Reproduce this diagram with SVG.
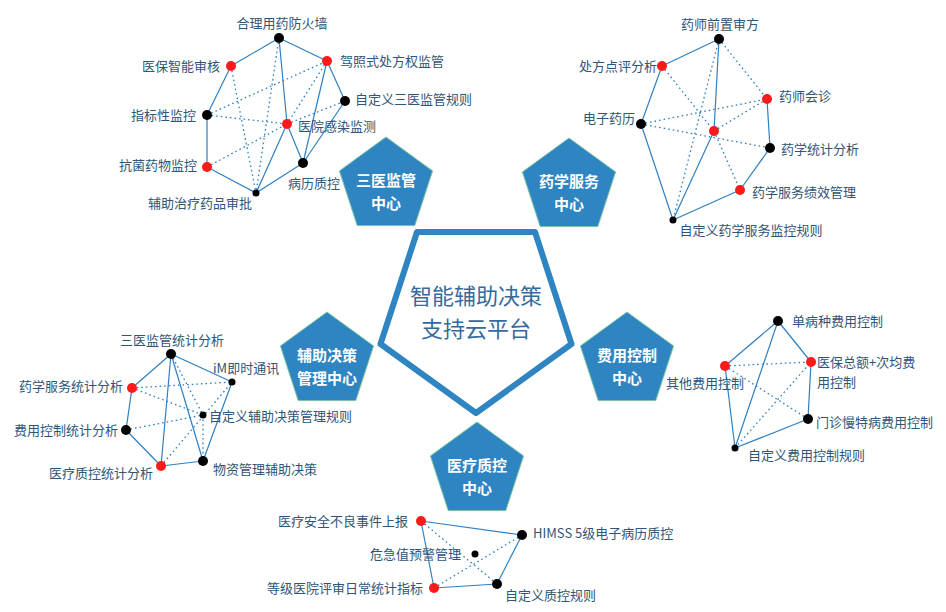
<svg xmlns="http://www.w3.org/2000/svg" width="946" height="612" viewBox="0 0 946 612">
<defs>
<style>
.s{stroke:#2f80c2;stroke-width:1.2;fill:none}
.d{stroke:#2f80c2;stroke-width:1.3;fill:none;stroke-dasharray:1.6 3}
.r{fill:#ff1a1a}
.k{fill:#000}
.lb{font-family:"Noto Sans CJK SC","Liberation Sans",sans-serif;font-size:13px;fill:#2f5577}
.pt{font-family:"Noto Sans CJK SC","Liberation Sans",sans-serif;font-size:15px;font-weight:bold;fill:#fff;text-anchor:middle}
.ct{font-family:"Noto Sans CJK SC","Liberation Sans",sans-serif;font-size:22px;fill:#336b9e;text-anchor:middle}
.pg{fill:#2f85c1;stroke:#7cc6a2;stroke-width:1}
</style>
<polygon id="pent" points="0,-49 46.6,-15.1 28.8,39.6 -28.8,39.6 -46.6,-15.1"/>
</defs>
<rect width="946" height="612" fill="#fff"/>

<g id="connectors">
<!-- cluster 1 -->
<line class="s" x1="279" y1="38" x2="231" y2="66"/>
<line class="s" x1="279" y1="38" x2="327" y2="61"/>
<line class="s" x1="279" y1="38" x2="287" y2="124"/>
<line class="s" x1="231" y1="66" x2="207" y2="115"/>
<line class="s" x1="207" y1="115" x2="207" y2="167"/>
<line class="s" x1="207" y1="167" x2="256" y2="193"/>
<line class="s" x1="256" y1="193" x2="287" y2="124"/>
<line class="s" x1="256" y1="193" x2="303" y2="163"/>
<line class="s" x1="287" y1="124" x2="303" y2="163"/>
<line class="s" x1="327" y1="61" x2="303" y2="163"/>
<line class="s" x1="327" y1="61" x2="345" y2="101"/>
<line class="s" x1="345" y1="101" x2="303" y2="163"/>
<line class="d" x1="279" y1="38" x2="256" y2="193"/>
<line class="d" x1="231" y1="66" x2="256" y2="193"/>
<line class="d" x1="207" y1="115" x2="327" y2="61"/>
<line class="d" x1="207" y1="115" x2="287" y2="124"/>
<line class="d" x1="207" y1="167" x2="287" y2="124"/>
<line class="d" x1="287" y1="124" x2="345" y2="101"/>
<line class="d" x1="327" y1="61" x2="287" y2="124"/>
<!-- cluster 2 -->
<line class="s" x1="719" y1="39" x2="662" y2="66"/>
<line class="s" x1="719" y1="39" x2="714" y2="131"/>
<line class="s" x1="662" y1="66" x2="641" y2="124"/>
<line class="s" x1="641" y1="124" x2="673" y2="220"/>
<line class="s" x1="673" y1="220" x2="714" y2="131"/>
<line class="s" x1="673" y1="220" x2="740" y2="190"/>
<line class="s" x1="740" y1="190" x2="770" y2="148"/>
<line class="s" x1="770" y1="148" x2="767" y2="99"/>
<line class="d" x1="719" y1="39" x2="767" y2="99"/>
<line class="d" x1="719" y1="39" x2="673" y2="220"/>
<line class="d" x1="662" y1="66" x2="714" y2="131"/>
<line class="d" x1="714" y1="131" x2="740" y2="190"/>
<line class="d" x1="641" y1="124" x2="767" y2="99"/>
<line class="d" x1="641" y1="124" x2="770" y2="148"/>
<line class="d" x1="714" y1="131" x2="767" y2="99"/>
<!-- cluster 3 -->
<line class="s" x1="171" y1="354" x2="132" y2="388"/>
<line class="s" x1="132" y1="388" x2="126" y2="430"/>
<line class="s" x1="126" y1="430" x2="161" y2="466"/>
<line class="s" x1="161" y1="466" x2="203" y2="461"/>
<line class="s" x1="203" y1="461" x2="232" y2="382"/>
<line class="s" x1="171" y1="354" x2="232" y2="382"/>
<line class="s" x1="171" y1="354" x2="161" y2="466"/>
<line class="s" x1="171" y1="354" x2="203" y2="461"/>
<line class="d" x1="132" y1="388" x2="232" y2="382"/>
<line class="d" x1="132" y1="388" x2="203" y2="415"/>
<line class="d" x1="126" y1="430" x2="203" y2="415"/>
<line class="d" x1="171" y1="354" x2="203" y2="415"/>
<line class="d" x1="161" y1="466" x2="232" y2="382"/>
<line class="d" x1="203" y1="415" x2="203" y2="461"/>
<!-- cluster 4 -->
<line class="s" x1="778" y1="321" x2="725" y2="366"/>
<line class="s" x1="778" y1="321" x2="811" y2="362"/>
<line class="s" x1="778" y1="321" x2="735" y2="448"/>
<line class="s" x1="725" y1="366" x2="735" y2="448"/>
<line class="s" x1="735" y1="448" x2="808" y2="419"/>
<line class="s" x1="808" y1="419" x2="811" y2="362"/>
<line class="d" x1="725" y1="366" x2="811" y2="362"/>
<line class="d" x1="725" y1="366" x2="808" y2="419"/>
<line class="d" x1="735" y1="448" x2="811" y2="362"/>
<!-- cluster 5 -->
<line class="s" x1="421" y1="521" x2="522" y2="535"/>
<line class="s" x1="421" y1="521" x2="434" y2="588"/>
<line class="s" x1="434" y1="588" x2="497" y2="584"/>
<line class="s" x1="497" y1="584" x2="522" y2="535"/>
<line class="d" x1="421" y1="521" x2="497" y2="584"/>
<line class="d" x1="434" y1="588" x2="522" y2="535"/>
</g>

<g id="platform">
<polygon points="476,413 380.5,344 417,232 535,232 571.5,344" fill="none" stroke="#2f85c1" stroke-width="6" stroke-linejoin="round"/>
<text class="ct" x="476" y="304">智能辅助决策</text>
<text class="ct" x="476" y="337">支持云平台</text>
</g>

<g id="center-sanyi">
<use href="#pent" class="pg" transform="translate(386,186)"/>
<text class="pt" x="386" y="186">三医监管</text>
<text class="pt" x="386" y="209">中心</text>
</g>
<g id="center-yaoxue">
<use href="#pent" class="pg" transform="translate(569,187)"/>
<text class="pt" x="569" y="187">药学服务</text>
<text class="pt" x="569" y="210">中心</text>
</g>
<g id="center-fuzhu">
<use href="#pent" class="pg" transform="translate(327,361)"/>
<text class="pt" x="327" y="361">辅助决策</text>
<text class="pt" x="327" y="384">管理中心</text>
</g>
<g id="center-feiyong">
<use href="#pent" class="pg" transform="translate(627,361)"/>
<text class="pt" x="627" y="361">费用控制</text>
<text class="pt" x="627" y="384">中心</text>
</g>
<g id="center-zhikong">
<use href="#pent" class="pg" transform="translate(477,471)"/>
<text class="pt" x="477" y="471">医疗质控</text>
<text class="pt" x="477" y="494">中心</text>
</g>

<!-- cluster 1 nodes -->
<g id="n-heli"><circle class="k" cx="279" cy="38" r="5"/><text class="lb" x="282" y="28" text-anchor="middle">合理用药防火墙</text></g>
<g id="n-yibao"><circle class="r" cx="231" cy="66" r="5"/><text class="lb" x="220" y="71" text-anchor="end">医保智能审核</text></g>
<g id="n-jiazhao"><circle class="r" cx="327" cy="61" r="5"/><text class="lb" x="340" y="66">驾照式处方权监管</text></g>
<g id="n-zdy1"><circle class="k" cx="345" cy="101" r="5"/><text class="lb" x="355" y="104">自定义三医监管规则</text></g>
<g id="n-zhibiao"><circle class="k" cx="207" cy="115" r="5"/><text class="lb" x="196" y="120" text-anchor="end">指标性监控</text></g>
<g id="n-ganran"><circle class="r" cx="287" cy="124" r="5"/><text class="lb" x="298" y="131">医院感染监测</text></g>
<g id="n-kangjun"><circle class="r" cx="207" cy="167" r="5"/><text class="lb" x="197" y="170" text-anchor="end">抗菌药物监控</text></g>
<g id="n-bingli"><circle class="k" cx="303" cy="163" r="5"/><text class="lb" x="314" y="188" text-anchor="middle">病历质控</text></g>
<g id="n-fuzhuzl"><circle class="k" cx="256" cy="193" r="3.5"/><text class="lb" x="200" y="208" text-anchor="middle">辅助治疗药品审批</text></g>

<!-- cluster 2 nodes -->
<g id="n-qianzhi"><circle class="k" cx="719" cy="39" r="5"/><text class="lb" x="720" y="29" text-anchor="middle">药师前置审方</text></g>
<g id="n-chufang"><circle class="r" cx="662" cy="66" r="5"/><text class="lb" x="657" y="71" text-anchor="end">处方点评分析</text></g>
<g id="n-huizhen"><circle class="r" cx="767" cy="99" r="5"/><text class="lb" x="779" y="101">药师会诊</text></g>
<g id="n-dianzi"><circle class="k" cx="641" cy="124" r="5"/><text class="lb" x="635" y="123" text-anchor="end">电子药历</text></g>
<g id="n-yxcenter"><circle class="r" cx="714" cy="131" r="5"/></g>
<g id="n-yxtongji"><circle class="k" cx="770" cy="148" r="5"/><text class="lb" x="781" y="154">药学统计分析</text></g>
<g id="n-jixiao"><circle class="r" cx="740" cy="190" r="5"/><text class="lb" x="752" y="197">药学服务绩效管理</text></g>
<g id="n-zdy2"><circle class="k" cx="673" cy="220" r="3.5"/><text class="lb" x="751" y="235" text-anchor="middle">自定义药学服务监控规则</text></g>

<!-- cluster 3 nodes -->
<g id="n-sytj"><circle class="k" cx="171" cy="354" r="5"/><text class="lb" x="172" y="345" text-anchor="middle">三医监管统计分析</text></g>
<g id="n-yxtj"><circle class="r" cx="132" cy="388" r="5"/><text class="lb" x="123" y="391" text-anchor="end">药学服务统计分析</text></g>
<g id="n-im"><circle class="k" cx="232" cy="382" r="3.5"/><text class="lb" x="213" y="373">iM即时通讯</text></g>
<g id="n-zdy3"><circle class="k" cx="203" cy="415" r="3.5"/><text class="lb" x="209" y="421">自定义辅助决策管理规则</text></g>
<g id="n-fytj"><circle class="k" cx="126" cy="430" r="5"/><text class="lb" x="118" y="435" text-anchor="end">费用控制统计分析</text></g>
<g id="n-zktj"><circle class="r" cx="161" cy="466" r="5"/><text class="lb" x="101" y="478" text-anchor="middle">医疗质控统计分析</text></g>
<g id="n-wuzi"><circle class="k" cx="203" cy="461" r="5"/><text class="lb" x="213" y="474">物资管理辅助决策</text></g>

<!-- cluster 4 nodes -->
<g id="n-danbing"><circle class="k" cx="778" cy="321" r="5"/><text class="lb" x="792" y="326">单病种费用控制</text></g>
<g id="n-zonge"><circle class="r" cx="811" cy="362" r="5"/><text class="lb" x="817" y="367">医保总额+次均费</text><text class="lb" x="817" y="387">用控制</text></g>
<g id="n-qita"><circle class="r" cx="725" cy="366" r="5"/><text class="lb" x="705" y="388" text-anchor="middle">其他费用控制</text></g>
<g id="n-menzhen"><circle class="k" cx="808" cy="419" r="5"/><text class="lb" x="816" y="427">门诊慢特病费用控制</text></g>
<g id="n-zdy4"><circle class="k" cx="735" cy="448" r="3.5"/><text class="lb" x="748" y="460">自定义费用控制规则</text></g>

<!-- cluster 5 nodes -->
<g id="n-anquan"><circle class="r" cx="421" cy="521" r="5"/><text class="lb" x="408" y="526" text-anchor="end">医疗安全不良事件上报</text></g>
<g id="n-himss"><circle class="k" cx="522" cy="535" r="5"/><text class="lb" x="533" y="538">HIMSS 5级电子病历质控</text></g>
<g id="n-weiji"><circle class="k" cx="475" cy="554" r="3.5"/><text class="lb" x="461" y="559" text-anchor="end">危急值预警管理</text></g>
<g id="n-dengji"><circle class="r" cx="434" cy="588" r="5"/><text class="lb" x="423" y="593" text-anchor="end">等级医院评审日常统计指标</text></g>
<g id="n-zdy5"><circle class="k" cx="497" cy="584" r="5"/><text class="lb" x="505" y="600">自定义质控规则</text></g>
</svg>
